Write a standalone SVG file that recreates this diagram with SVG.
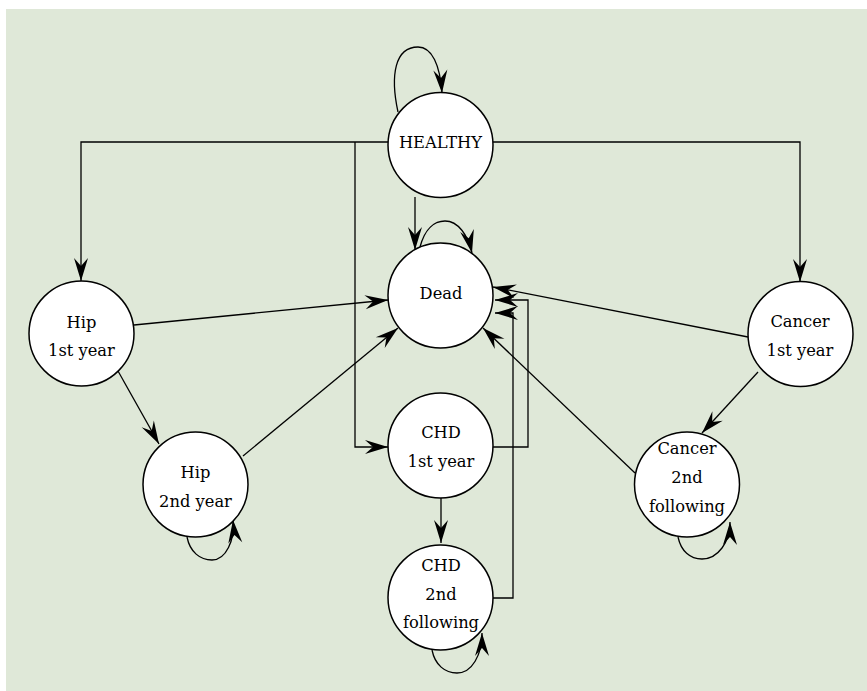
<svg xmlns="http://www.w3.org/2000/svg" width="867" height="691" viewBox="0 0 867 691">
<style>
.node circle{fill:#fff;stroke:#000;stroke-width:1.5}
.node text{font-family:"DejaVu Serif","Liberation Serif",serif;font-size:16.3px;fill:#000;text-anchor:middle}
.edges path{fill:none;stroke:#000;stroke-width:1.3;marker-end:url(#ah)}
</style>
<defs>
<marker id="ah" viewBox="-24 -8 25 16" refX="0" refY="0" markerWidth="25" markerHeight="16" markerUnits="userSpaceOnUse" orient="auto">
<path d="M0,0 L-23,-7 L-15,0 L-23,7 Z" fill="#000"/>
</marker>
</defs>
<rect x="6" y="9" width="861" height="682" fill="#dfe8d8"/>
<g class="edges">
<path d="M398,112 C390,75 395,47 418,47 C432,47 440,65 442,93"/>
<path d="M388,142 H81 V281"/>
<path d="M493,142 H800 V282"/>
<path d="M415,197 V250"/>
<path d="M355,142 V447 H388"/>
<path d="M420,247 C425,228 435,221 445,221 C458,221 468,235 472,253"/>
<path d="M134,325 L388,300"/>
<path d="M243,456 L398,328"/>
<path d="M118,371 L159,444"/>
<path d="M187,537 C190,552 200,560 212,560 C226,560 235,540 233,520"/>
<path d="M493,447 H528 V300 H495"/>
<path d="M493,598 H513 V313 H495"/>
<path d="M441,498 V543"/>
<path d="M432,650 C435,665 445,673 457,673 C472,673 482,655 482,633"/>
<path d="M748,337 L493,287"/>
<path d="M758,372 L702,433"/>
<path d="M635,473 L483,328"/>
<path d="M678,537 C681,551 690,559 702,559 C718,559 730,542 730,522"/>
</g>
<g id="healthy" class="node"><circle cx="440.5" cy="145" r="52.5"/><text x="440.5" y="148">HEALTHY</text></g>
<g id="dead" class="node"><circle cx="440.5" cy="295.5" r="52.5"/><text x="441" y="299">Dead</text></g>
<g id="hip1" class="node"><circle cx="81.5" cy="333.5" r="52.5"/><text x="81.5" y="328">Hip</text><text x="81.5" y="356">1st year</text></g>
<g id="hip2" class="node"><circle cx="195.5" cy="484.5" r="52.5"/><text x="195.5" y="478">Hip</text><text x="195.5" y="507">2nd year</text></g>
<g id="chd1" class="node"><circle cx="440.5" cy="445.5" r="52.5"/><text x="441" y="438">CHD</text><text x="441" y="467">1st year</text></g>
<g id="chd2" class="node"><circle cx="440.5" cy="597.5" r="52.5"/><text x="441" y="571">CHD</text><text x="441" y="600">2nd</text><text x="441" y="628">following</text></g>
<g id="cancer1" class="node"><circle cx="800.5" cy="334" r="52.5"/><text x="800" y="327">Cancer</text><text x="800" y="356">1st year</text></g>
<g id="cancer2" class="node"><circle cx="687" cy="484.5" r="52.5"/><text x="687" y="454">Cancer</text><text x="687" y="483">2nd</text><text x="687" y="512">following</text></g>
</svg>
